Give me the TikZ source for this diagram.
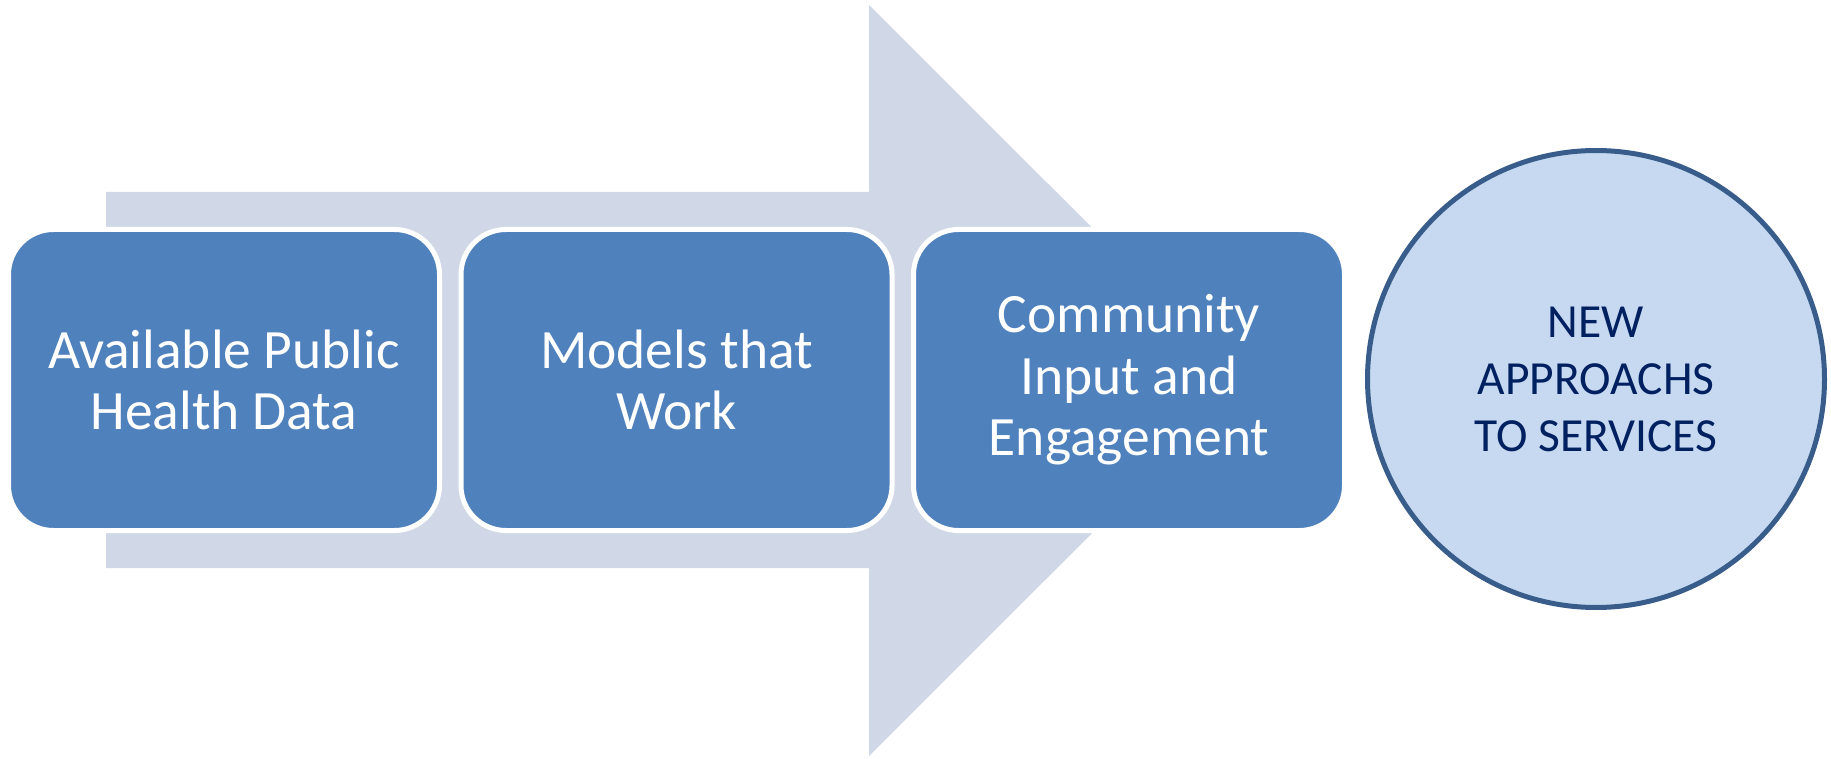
\documentclass[tikz,border=0pt]{standalone}
\usepackage{fontspec}
\setmainfont{Carlito}
\definecolor{arrowfill}{HTML}{D0D8E8}
\definecolor{stepblue}{HTML}{4F81BD}
\definecolor{goalfill}{HTML}{C6D9F1}
\definecolor{goalline}{HTML}{385D8A}
\definecolor{goaltext}{HTML}{002060}
\tikzset{
  stepbox/.style={rectangle, rounded corners=45pt, fill=stepblue, draw=white,
    line width=5pt, minimum width=431pt, minimum height=301pt, inner sep=0pt,
    align=center, text=white, font=\fontsize{55.5}{61.5}\selectfont},
  goalnode/.style={circle, fill=goalfill, draw=goalline, line width=5pt,
    minimum size=457pt, inner sep=0pt, align=center, text=goaltext,
    font=\fontsize{47.5}{57}\selectfont}
}
\begin{document}
\begin{tikzpicture}[x=1pt, y=-1pt]
  \useasboundingbox (0,0) rectangle (1831,759);
  % background process arrow
  \fill[arrowfill] (106,192) -- (869,192) -- (869,5) -- (1245,380.5)
    -- (869,756) -- (869,568) -- (106,568) -- cycle;
  % process steps
  \node[stepbox] (data) at (224,380) {Available Public\\Health Data};
  \node[stepbox] (models) at (676.5,380) {Models that\\Work};
  \node[stepbox] (community) at (1129,380) {Community\\Input and\\Engagement};
  % outcome
  \node[goalnode] (goal) at (1596,379) {NEW\\APPROACHS\\TO SERVICES};
\end{tikzpicture}
\end{document}
